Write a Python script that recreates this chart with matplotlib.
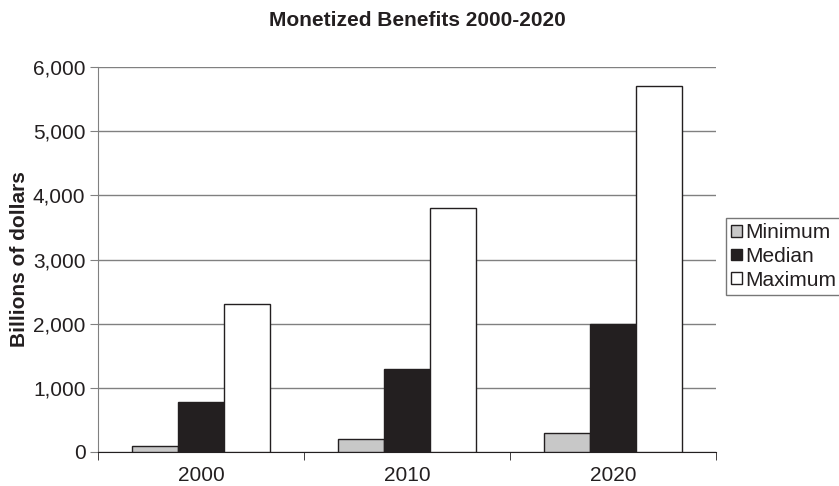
import numpy as np
import matplotlib.pyplot as plt
from matplotlib.ticker import FuncFormatter

plt.rcParams['font.family'] = ['Liberation Sans', 'DejaVu Sans']

years = ['2000', '2010', '2020']
series = ['Minimum', 'Median', 'Maximum']
minimum = [100, 200, 300]
median = [780, 1300, 2000]
maximum = [2300, 3800, 5700]
colors = ['#c8c8c8', '#231f20', '#ffffff']

fig = plt.figure(figsize=(8.39, 4.86), dpi=100)
ax = fig.add_axes([0.1168, 0.070, 0.7366, 0.792])

x = np.arange(len(years))
w = 0.223
for i, (vals, c, lab) in enumerate(zip([minimum, median, maximum], colors, series)):
    ax.bar(x + (i - 1) * w, vals, w, color=c, edgecolor='#231f20', linewidth=1.0,
           label=lab, zorder=3)

ax.set_xlim(-0.5, 2.5)
ax.set_ylim(0, 6000)
ax.set_yticks(np.arange(0, 6001, 1000))
ax.yaxis.set_major_formatter(FuncFormatter(lambda v, p: f'{int(v):,}'))
ax.set_xticks(x)
ax.set_xticklabels(years)
ax.set_xticks([-0.5, 0.5, 1.5, 2.5], minor=True)
ax.tick_params(axis='x', which='major', length=0, labelsize=15, pad=10, labelcolor='#231f20')
ax.tick_params(axis='x', which='minor', length=6, direction='out', color='#231f20')
ax.tick_params(axis='y', length=6, direction='out', color='#808080', labelsize=15,
               pad=3, labelcolor='#231f20')

ax.grid(axis='y', color='#808080', linewidth=1.0, zorder=0)
for s in ['top', 'right']:
    ax.spines[s].set_visible(False)
ax.spines['left'].set_color('#808080')
ax.spines['bottom'].set_color('#231f20')

ax.set_ylabel('Billions of dollars', fontsize=15, fontweight='bold', color='#231f20')
ax.yaxis.set_label_coords(-0.112, 0.5)
fig.text(0.497, 0.958, 'Monetized Benefits 2000-2020', ha='center', va='center',
         fontsize=15, fontweight='bold', color='#231f20')

leg = ax.legend(loc='center left', bbox_to_anchor=(1.016, 0.508), frameon=True,
                fancybox=False, edgecolor='#555555', fontsize=15,
                handlelength=0.5, handleheight=0.5, handletextpad=0.2,
                borderpad=0.25, labelspacing=0.22, borderaxespad=0)
leg.get_frame().set_linewidth(1.0)
for t in leg.get_texts():
    t.set_color('#231f20')

fig.savefig('out.png', dpi=100)
